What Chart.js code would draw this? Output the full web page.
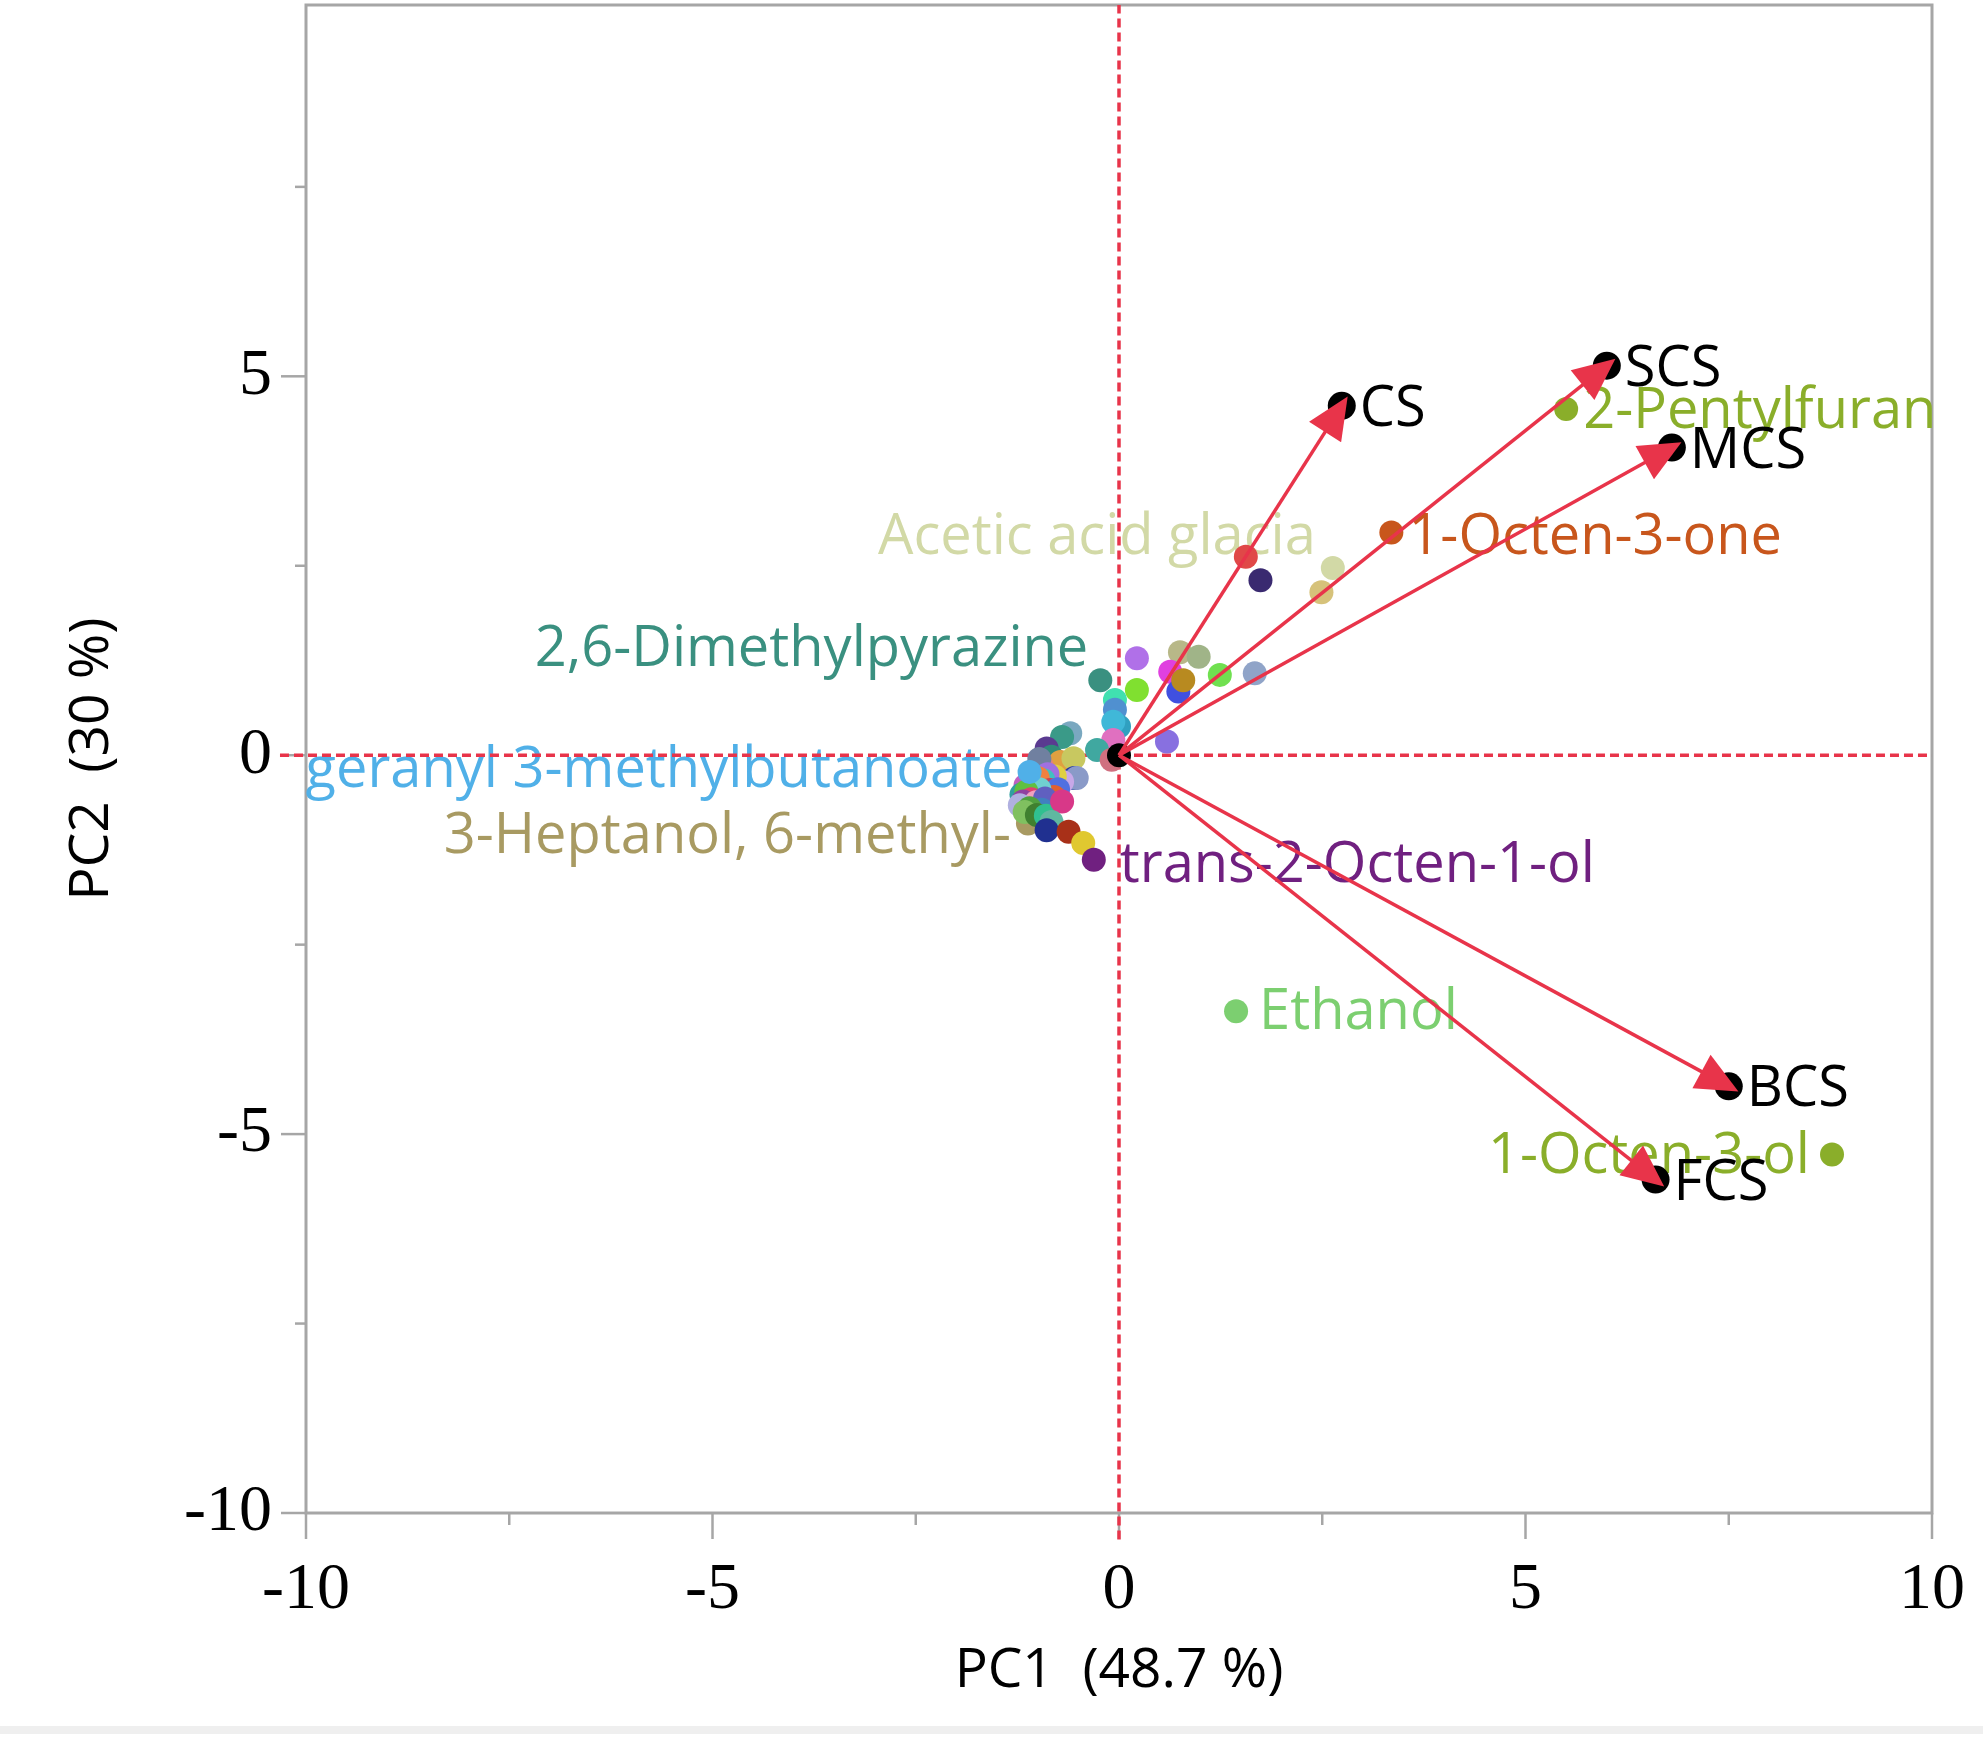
<!DOCTYPE html>
<html>
<head>
<meta charset="utf-8">
<script src="https://cdn.jsdelivr.net/npm/chart.js@4.4.1/dist/chart.umd.min.js"></script>
<style>
  html, body { margin: 0; padding: 0; background: #fff; }
  #wrap { width: 1983px; height: 1737px; position: relative; }
</style>
</head>
<body>
<div id="wrap"><canvas id="biplot"></canvas></div>
<script>
// axis ticks
const xTicks = [-10, -5, 0, 5, 10];
const xMinorTicks = [-7.5, -2.5, 2.5, 7.5];
const yTicks = [-10, -5, 0, 5];
const yMinorTicks = [-7.5, -2.5, 2.5, 7.5];

// samples (score points, arrows from origin)
const sampleNames = ['CS', 'SCS', 'MCS', 'BCS', 'FCS'];
const sampleX = [2.74, 6.00, 6.80, 7.50, 6.60];
const sampleY = [4.61, 5.14, 4.06, -4.37, -5.60];

// volatile compounds (loading points)
const varNames = [
  '2-Pentylfuran', '1-Octen-3-one', '', '', 'Acetic acid glacia', '', 'Ethanol', '1-Octen-3-ol',
  '', '2,6-Dimethylpyrazine', '', '', '', '', '', '', '', '', '', '', '', '', '', '', '', '',
  '', '', '', '', '', '', '', '', '', '', '', '', '', '', '', '', '', '', '', '', '', '', '',
  '', '', 'geranyl 3-methylbutanoate', '3-Heptanol, 6-methyl-', '', '', '', '', '', '', '', '', '', '', '',
  '', '', '', 'trans-2-Octen-1-ol', ''
];
const varX = [
  5.50, 3.35, 1.56, 1.74, 2.63, 2.49, 1.44, 8.77,
  0.22, -0.23, 0.22, 0.75, 0.98, 0.63, 0.73, 0.79, 1.24, 1.67, -0.05, -0.05, 0.00, -0.07, -0.07, -0.27, 0.59, -0.09,
  -0.60, -0.70, -0.89, -0.83, -0.72, -0.56, -0.55, -0.52, -0.70, -0.79, -0.95, -1.01, -0.98, -0.88, -1.05, -0.93, -1.15, -1.00, -0.85, -0.75, -0.80, -0.98, -1.20,
  -1.14, -1.08, -1.10, -1.12, -1.18, -1.02, -1.22, -0.91, -0.95, -1.10, -1.16, -1.01, -0.90, -0.70,
  -0.83, -0.89, -0.62, -0.44, -0.31, 0.00
];
const varY = [
  4.57, 2.94, 2.62, 2.31, 2.47, 2.15, -3.38, -5.27,
  1.28, 0.99, 0.86, 1.36, 1.30, 1.10, 0.84, 0.99, 1.06, 1.08, 0.73, 0.60, 0.38, 0.44, 0.20, 0.07, 0.18, -0.06,
  0.29, 0.24, 0.09, -0.02, -0.09, -0.04, -0.30, -0.30, -0.35, -0.28, -0.15, -0.17, -0.05, -0.25, -0.35, -0.33, -0.40, -0.30, -0.46, -0.45, -0.55, -0.45, -0.52,
  -0.48, -0.58, -0.22, -0.90, -0.61, -0.62, -0.66, -0.57, -0.72, -0.70, -0.75, -0.79, -0.80, -0.61,
  -0.88, -0.99, -1.01, -1.16, -1.38, 0.00
];
const varColors = [
  '#8aae2a', '#c8561c', '#e04848', '#3a2a70', '#d2d9a6', '#d6c27a', '#7ccf70', '#8aae2a',
  '#b070e8', '#3a9080', '#80e030', '#b8b888', '#a0b488', '#e040e0', '#4050e0', '#b88a20', '#70e050', '#90a4c8', '#40e0b0', '#5090d0', '#30a0c0', '#40b8d8', '#e070c0', '#40a8a0', '#8870e0', '#d07080',
  '#7aa8c0', '#3a9a88', '#5a3a90', '#2e8a78', '#e0a040', '#c8c860', '#2a3aa0', '#8a9ac8', '#c8a8e8', '#e0d040', '#e08080', '#e09070', '#7080a0', '#a070e0', '#80c0e0', '#40c0c0', '#c060c0', '#f08040', '#d04050', '#5070e0', '#e06030', '#70d0d0', '#30a0a0',
  '#60c040', '#e04070', '#50b0e8', '#a89a62', '#9040a0', '#f0a0c0', '#b0b0e0', '#6060c0', '#4080c0', '#50a040', '#80c060', '#408030', '#30c090', '#d83888',
  '#60b8a0', '#203090', '#a83018', '#e0c830', '#702080', '#000000'
];

// label placement around its point: alignment and pixel offset
const labelPlacement = {
  '2-Pentylfuran': ['left', 17, 3],
  '1-Octen-3-one': ['left', 17, 6],
  'Acetic acid glacia': ['right', -17, -30],
  '2,6-Dimethylpyrazine': ['right', -12, -30],
  'geranyl 3-methylbutanoate': ['right', -17, -1],
  '3-Heptanol, 6-methyl-': ['right', -17, 14],
  'trans-2-Octen-1-ol': ['left', 26, 6],
  'Ethanol': ['left', 23, 2],
  '1-Octen-3-ol': ['right', -22, 2]
};

const RED = '#e8344a';
const FRAME = '#a6a6a6';
const LABEL_FONT = '56px "Open Sans"';

const points = (xs, ys) => xs.map((v, i) => ({ x: v, y: ys[i] }));

const datasets = [];
// sample points on top
datasets.push({
  type: 'scatter', data: points(sampleX, sampleY), order: 0,
  pointRadius: 14, backgroundColor: '#000', borderWidth: 0
});
// arrows
sampleX.forEach((sx, i) => {
  datasets.push({
    type: 'scatter', data: [{ x: 0, y: 0 }, { x: sx, y: sampleY[i] }], order: 1,
    showLine: true, borderColor: RED, borderWidth: 3.5, pointRadius: 0
  });
});
// loadings
datasets.push({
  type: 'scatter', data: points(varX, varY), order: 2,
  pointRadius: 12, backgroundColor: varColors, borderWidth: 0
});
// dashed reference lines through origin
datasets.push({
  type: 'scatter', data: [{ x: -10.32, y: 0 }, { x: 10, y: 0 }], order: 3, clip: false,
  showLine: true, borderColor: RED, borderWidth: 3.5, borderDash: [9, 5], pointRadius: 0
});
datasets.push({
  type: 'scatter', data: [{ x: 0, y: -10.35 }, { x: 0, y: 9.9 }], order: 3, clip: false,
  showLine: true, borderColor: RED, borderWidth: 3.5, borderDash: [9, 5], pointRadius: 0
});

const biplotDecor = {
  id: 'biplotDecor',
  beforeDraw(chart) {
    const { ctx, width } = chart;
    ctx.save();
    ctx.fillStyle = '#efefef';
    ctx.fillRect(0, 1726, width, 8);
    ctx.restore();
  },
  beforeDatasetsDraw(chart) {
    const { ctx, chartArea: a, scales: { x, y } } = chart;
    ctx.save();
    // frame
    ctx.strokeStyle = FRAME;
    ctx.lineWidth = 3;
    ctx.strokeRect(a.left, a.top, a.right - a.left, a.bottom - a.top);
    // tick marks
    const tick = (v, len, horiz) => {
      ctx.beginPath();
      if (horiz) {
        const px = x.getPixelForValue(v);
        ctx.moveTo(px, a.bottom); ctx.lineTo(px, a.bottom + len);
      } else {
        const py = y.getPixelForValue(v);
        ctx.moveTo(a.left, py); ctx.lineTo(a.left - len, py);
      }
      ctx.stroke();
    };
    ctx.lineWidth = 2.5;
    xTicks.forEach(v => tick(v, 26, true));
    xMinorTicks.forEach(v => tick(v, 12, true));
    yTicks.forEach(v => tick(v, 25, false));
    yMinorTicks.forEach(v => tick(v, 11, false));
    // compound labels (under the marks)
    ctx.font = LABEL_FONT;
    ctx.textBaseline = 'middle';
    varNames.forEach((name, i) => {
      if (!name) return;
      const [align, dx, dy] = labelPlacement[name];
      ctx.textAlign = align;
      ctx.fillStyle = varColors[i];
      ctx.fillText(name, x.getPixelForValue(varX[i]) + dx, y.getPixelForValue(varY[i]) + dy);
    });
    ctx.restore();
  },
  afterDatasetsDraw(chart) {
    const { ctx, scales: { x, y } } = chart;
    const ox = x.getPixelForValue(0), oy = y.getPixelForValue(0);
    ctx.save();
    // sample labels
    ctx.font = LABEL_FONT;
    ctx.textBaseline = 'middle';
    ctx.textAlign = 'left';
    ctx.fillStyle = '#000';
    sampleNames.forEach((name, i) => {
      ctx.fillText(name, x.getPixelForValue(sampleX[i]) + 18, y.getPixelForValue(sampleY[i]) + 4);
    });
    // arrow heads
    ctx.fillStyle = RED;
    sampleX.forEach((sx, i) => {
      const px = x.getPixelForValue(sx), py = y.getPixelForValue(sampleY[i]);
      const ang = Math.atan2(py - oy, px - ox);
      const tx = px + 11 * Math.cos(ang), ty = py + 11 * Math.sin(ang);
      const len = 42, half = 19;
      const bx = tx - len * Math.cos(ang), by = ty - len * Math.sin(ang);
      ctx.beginPath();
      ctx.moveTo(tx, ty);
      ctx.lineTo(bx + half * Math.sin(ang), by - half * Math.cos(ang));
      ctx.lineTo(bx - half * Math.sin(ang), by + half * Math.cos(ang));
      ctx.closePath();
      ctx.fill();
    });
    ctx.restore();
  }
};

const tickFont = { family: '"Liberation Serif", "Times New Roman", serif', size: 66 };
const titleFont = { family: '"Open Sans", sans-serif', size: 55 };

new Chart(document.getElementById('biplot').getContext('2d'), {
  type: 'scatter',
  data: { datasets },
  plugins: [biplotDecor],
  options: {
    responsive: true,
    maintainAspectRatio: false,
    animation: false,
    events: [],
    layout: { autoPadding: false, padding: { top: 5, right: 51, left: 0, bottom: 0 } },
    plugins: { legend: { display: false }, tooltip: { enabled: false } },
    scales: {
      x: {
        type: 'linear', min: -10, max: 10,
        afterBuildTicks: s => { s.ticks = xTicks.map(v => ({ value: v })); },
        afterFit: s => { s.height = 224; s.paddingLeft = 0; s.paddingRight = 0; },
        grid: { display: false, drawTicks: false },
        border: { display: false },
        ticks: { font: tickFont, color: '#000', padding: 38, maxRotation: 0 },
        title: { display: true, text: 'PC1  (48.7 %)', font: titleFont, color: '#000', padding: { top: 0, bottom: 33 } }
      },
      y: {
        type: 'linear', min: -10, max: 9.9,
        afterBuildTicks: s => { s.ticks = yTicks.map(v => ({ value: v })); },
        afterFit: s => { s.width = 306; s.paddingTop = 0; s.paddingBottom = 0; },
        grid: { display: false, drawTicks: false },
        border: { display: false },
        ticks: { font: tickFont, color: '#000', padding: 34 },
        title: { display: true, text: 'PC2  (30 %)', font: titleFont, color: '#000', padding: { top: 59, bottom: 0 } }
      }
    }
  }
});
</script>
</body>
</html>
